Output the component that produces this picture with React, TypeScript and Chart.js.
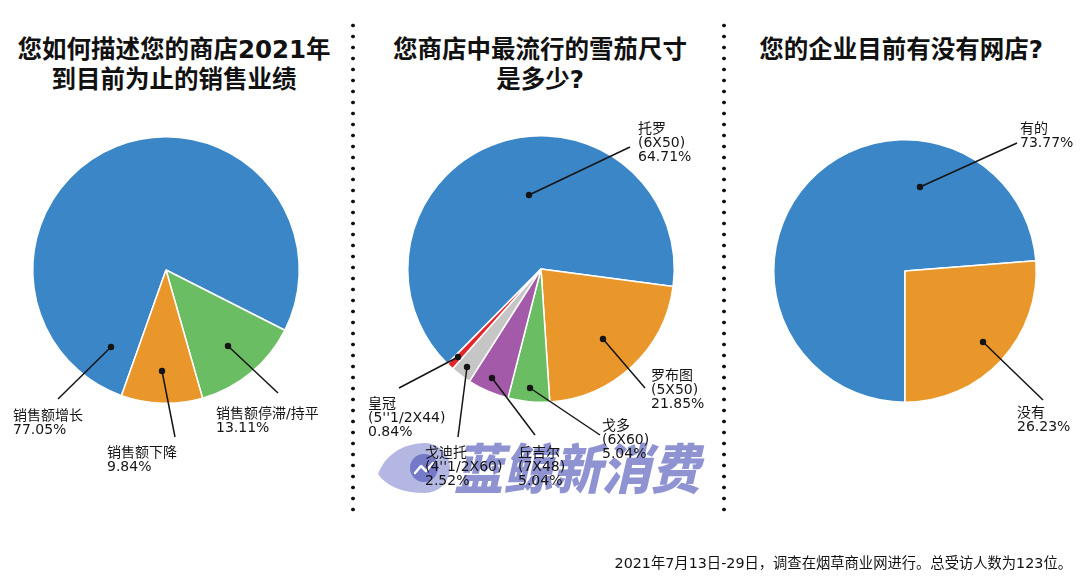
import React, { useEffect, useRef } from "react";
import { Chart, registerables } from "chart.js";

Chart.register(...registerables);

// ---------- data ----------
const salesNames = ["销售额增长", "销售额停滞/持平", "销售额下降"];
const salesValues = [77.05, 13.11, 9.84];
const salesColors = ["#3a86c7", "#6bbd63", "#e9962a"];

const sizeNames = ["托罗", "罗布图", "戈多", "丘吉尔", "戈迪托", "皇冠"];
const sizeSpecs = ["(6X50)", "(5X50)", "(6X60)", "(7X48)", "(4''1/2X60)", "(5''1/2X44)"];
const sizeValues = [64.71, 21.85, 5.04, 5.04, 2.52, 0.84];
const sizeColors = ["#3a86c7", "#e9962a", "#6bbd63", "#a35aa9", "#c6c6c6", "#e3262b"];

const shopNames = ["有的", "没有"];
const shopValues = [73.77, 26.23];
const shopColors = ["#3a86c7", "#e9962a"];

const titles = [
  ["您如何描述您的商店2021年", "到目前为止的销售业绩"],
  ["您商店中最流行的雪茄尺寸", "是多少?"],
  ["您的企业目前有没有网店?"],
];
const footnote = "2021年7月13日-29日，调查在烟草商业网进行。总受访人数为123位。";
const watermarkText = "蓝鲸新消费";

// ---------- callout layout (offsets from pie centre, px) ----------
type Callout = { dot: [number, number]; end: [number, number]; text: [number, number] };

const salesCallouts: Callout[] = [
  { dot: [-55, 77], end: [-108, 129], text: [-153, 139] },
  { dot: [62, 76], end: [112, 123], text: [50, 137] },
  { dot: [-4, 101], end: [9, 167], text: [-59, 176] },
];
const sizeCallouts: Callout[] = [
  { dot: [-12, -74], end: [89, -122], text: [97, -147] },
  { dot: [62, 70], end: [104, 119], text: [110, 100] },
  { dot: [-11, 119], end: [59, 166], text: [61, 150] },
  { dot: [-49, 109], end: [-6, 166], text: [-23, 177] },
  { dot: [-74, 98], end: [-83, 168], text: [-116, 177] },
  { dot: [-83, 88], end: [-142, 119], text: [-173, 128] },
];
const shopCallouts: Callout[] = [
  { dot: [15, -84], end: [112, -128], text: [115, -149] },
  { dot: [78, 71], end: [138, 129], text: [112, 135] },
];

const pct = (v: number) => v.toFixed(2) + "%";

const salesTexts = salesNames.map((n, i) => [n, pct(salesValues[i])]);
const sizeTexts = sizeNames.map((n, i) => [n, sizeSpecs[i], pct(sizeValues[i])]);
const shopTexts = shopNames.map((n, i) => [n, pct(shopValues[i])]);

const FONT = '"DejaVu Sans", "Noto Sans CJK SC", sans-serif';

function makeCallouts(layout: Callout[], texts: string[][]) {
  return {
    id: "callouts",
    afterDatasetsDraw(chart: any) {
      const ctx = chart.ctx as CanvasRenderingContext2D;
      const arcs = chart.getDatasetMeta(0).data;
      ctx.save();
      ctx.strokeStyle = "#151515";
      ctx.fillStyle = "#151515";
      ctx.lineWidth = 1.5;
      ctx.font = `14px ${FONT}`;
      ctx.textBaseline = "top";
      ctx.textAlign = "left";
      arcs.forEach((arc: any, i: number) => {
        const L = layout[i];
        if (!L) return;
        const cx = arc.x;
        const cy = arc.y;
        ctx.beginPath();
        ctx.moveTo(cx + L.dot[0], cy + L.dot[1]);
        ctx.lineTo(cx + L.end[0], cy + L.end[1]);
        ctx.stroke();
        ctx.beginPath();
        ctx.arc(cx + L.dot[0], cy + L.dot[1], 3.2, 0, Math.PI * 2);
        ctx.fill();
        texts[i].forEach((line, j) => {
          ctx.fillText(line, cx + L.text[0], cy + L.text[1] + j * 14.3);
        });
      });
      ctx.restore();
    },
  };
}

type PieProps = {
  left: number;
  values: number[];
  names: string[];
  colors: string[];
  rotation: number;
  padding: { left: number; right: number; top: number; bottom: number };
  layout: Callout[];
  texts: string[][];
};

function Pie({ left, values, names, colors, rotation, padding, layout, texts }: PieProps) {
  const ref = useRef<HTMLCanvasElement>(null);
  useEffect(() => {
    const chart = new Chart(ref.current!, {
      type: "pie",
      data: {
        labels: names,
        datasets: [
          {
            data: values,
            backgroundColor: colors,
            borderColor: "#ffffff",
            borderWidth: 1.5,
          },
        ],
      },
      options: {
        responsive: false,
        maintainAspectRatio: false,
        animation: false,
        events: [],
        rotation,
        layout: { padding },
        plugins: {
          legend: { display: false },
          tooltip: { enabled: false },
        },
      },
      plugins: [makeCallouts(layout, texts)],
    } as any);
    return () => chart.destroy();
  }, []);
  return (
    <canvas
      ref={ref}
      width={360}
      height={586}
      style={{ position: "absolute", left, top: 0, width: 360, height: 586 }}
    />
  );
}

function Title({ lines, cx }: { lines: string[]; cx: number }) {
  return (
    <div
      style={{
        position: "absolute",
        left: cx - 180,
        top: 35,
        width: 360,
        textAlign: "center",
        fontFamily: FONT,
        fontWeight: 700,
        fontSize: 24.5,
        lineHeight: "30px",
        color: "#111",
        whiteSpace: "nowrap",
      }}
    >
      {lines.map((l, i) => (
        <div key={i}>{l}</div>
      ))}
    </div>
  );
}

function Separator({ x }: { x: number }) {
  return (
    <div
      style={{
        position: "absolute",
        left: x - 3,
        top: 20,
        width: 6,
        height: 497,
        backgroundImage: "radial-gradient(circle, #111 1.5px, rgba(0,0,0,0) 2.2px)",
        backgroundSize: "6px 11px",
        backgroundRepeat: "repeat-y",
      }}
    />
  );
}

function Watermark() {
  return (
    <svg
      width={340}
      height={64}
      style={{ position: "absolute", left: 372, top: 436 }}
    >
      <path
        d="M 6 38 C 14 18, 30 8, 53 7 A 25 25 0 1 1 53 57 C 30 57, 14 50, 6 38 Z"
        fill="rgba(140,145,210,0.65)"
      />
      <circle cx={52} cy={32} r={14} fill="rgba(105,110,195,0.85)" />
      <polyline
        points="43,37 49,30 54,35 61,27"
        fill="none"
        stroke="#ffffff"
        strokeWidth={2.5}
        strokeLinejoin="round"
        strokeLinecap="round"
      />
      <text
        x={82}
        y={53}
        fontSize={54}
        fontWeight={900}
        fontStyle="italic"
        fontFamily='"Noto Sans CJK SC", sans-serif'
        fill="rgba(100,105,192,0.72)"
        textLength={246}
        lengthAdjust="spacingAndGlyphs"
      >
        {watermarkText}
      </text>
    </svg>
  );
}

export default function App() {
  useEffect(() => {
    document.body.style.margin = "0";
  }, []);
  return (
    <div
      style={{
        position: "fixed",
        left: 0,
        top: 0,
        width: 1080,
        height: 586,
        background: "#ffffff",
        overflow: "hidden",
      }}
    >
      <Title lines={titles[0]} cx={174} />
      <Title lines={titles[1]} cx={540} />
      <Title lines={titles[2]} cx={901} />
      <Separator x={353} />
      <Separator x={724} />
      <Watermark />
      <Pie
        left={0}
        values={salesValues}
        names={salesNames}
        colors={salesColors}
        rotation={199.5}
        padding={{ left: 32, right: 60, top: 136, bottom: 182 }}
        layout={salesCallouts}
        texts={salesTexts}
      />
      <Pie
        left={360}
        values={sizeValues}
        names={sizeNames}
        colors={sizeColors}
        rotation={224.6}
        padding={{ left: 47, right: 45, top: 135, bottom: 183 }}
        layout={sizeCallouts}
        texts={sizeTexts}
      />
      <Pie
        left={720}
        values={shopValues}
        names={shopNames}
        colors={shopColors}
        rotation={180}
        padding={{ left: 53, right: 43, top: 139, bottom: 183 }}
        layout={shopCallouts}
        texts={shopTexts}
      />
      <div
        style={{
          position: "absolute",
          right: 8,
          top: 553,
          fontFamily: FONT,
          fontSize: 14.3,
          lineHeight: "20px",
          color: "#111",
          whiteSpace: "nowrap",
        }}
      >
        {footnote}
      </div>
    </div>
  );
}
